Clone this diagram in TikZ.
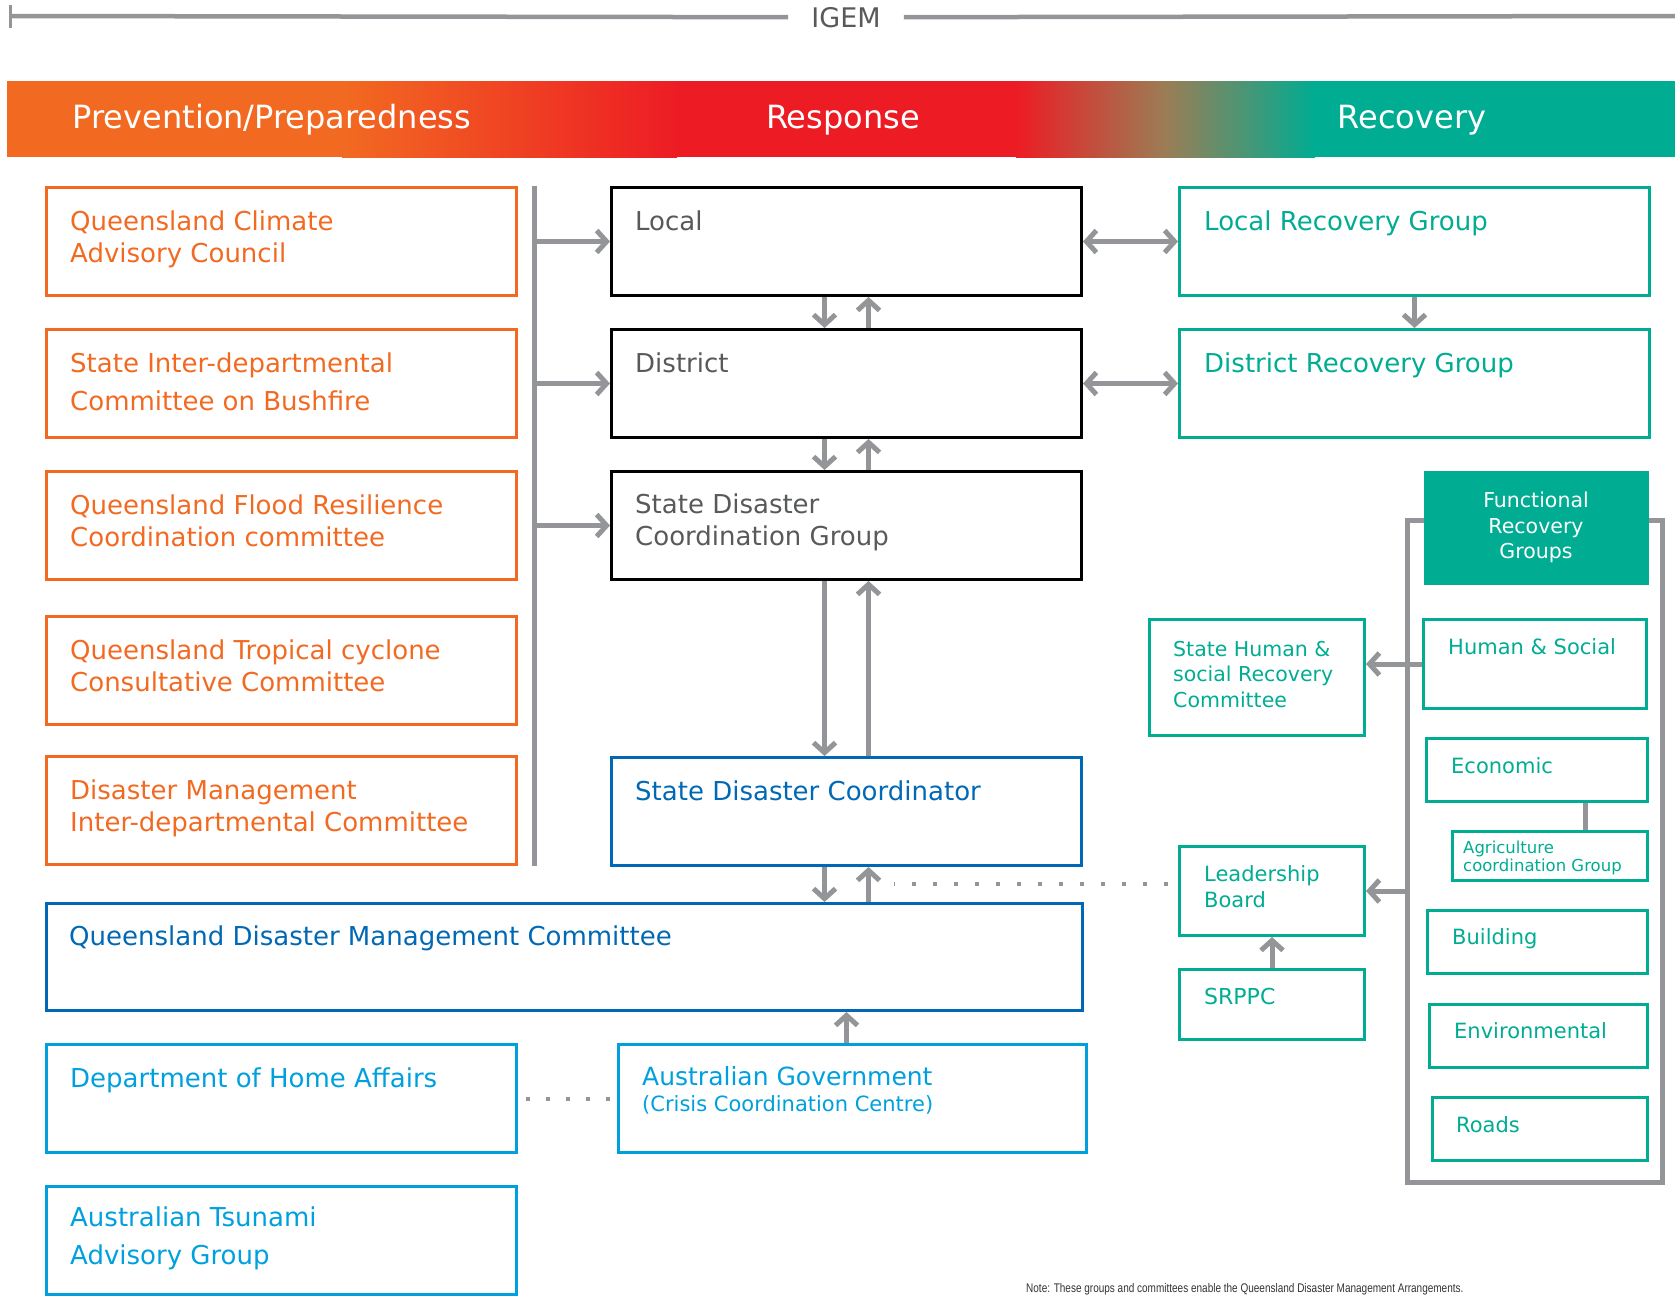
\documentclass[tikz,border=0pt]{standalone}
\usepackage{fontspec}
\setmainfont{DejaVu Sans}
\newfontfamily\notefont{Liberation Sans}
\usepackage{graphicx}
\usetikzlibrary{arrows.meta}

\definecolor{qorange}{RGB}{242,106,33}
\definecolor{qred}{RGB}{237,28,36}
\definecolor{qmud}{RGB}{155,125,85}
\definecolor{qteal}{RGB}{0,172,146}
\definecolor{qblue}{RGB}{0,104,180}
\definecolor{qsky}{RGB}{0,160,222}
\definecolor{qgrey}{RGB}{147,149,152}
\definecolor{qtext}{RGB}{88,89,91}

\tikzset{
  box/.style={draw, line width=3pt, anchor=north west, inner sep=0pt},
  big/.style={minimum width=470pt, minimum height=108pt},
  obox/.style={box, big, draw=qorange},
  kbox/.style={box, big, draw=black},
  bbox/.style={box, draw=qblue},
  sbox/.style={box, big, draw=qsky},
  tbox/.style={box, draw=qteal},
  lbl/.style={anchor=north west, align=left, inner sep=0pt, xshift=25pt, yshift=-#1,
    font=\fontsize{26}{32}\selectfont},
  lbl/.default=22pt,
  olbl/.style={lbl=#1, text=qorange}, olbl/.default=25pt,
  klbl/.style={lbl=#1, text=qtext}, klbl/.default=25pt,
  blbl/.style={lbl=#1, text=qblue}, blbl/.default=23pt,
  slbl/.style={lbl=#1, text=qsky}, slbl/.default=23pt,
  tlbl/.style={lbl=#1, text=qteal, font=\fontsize{21}{26}\selectfont}, tlbl/.default=20pt,
  arr/.style={draw=qgrey, line width=5pt, -{Straight Barb[length=10pt,width=22pt]}},
  darr/.style={draw=qgrey, line width=5pt,
    {Straight Barb[length=10pt,width=22pt]}-{Straight Barb[length=10pt,width=22pt]}},
  conn/.style={draw=qgrey, line width=5pt},
  dots/.style={draw=qgrey, line width=4pt, dash pattern=on 4pt off 17pt},
  phase/.style={anchor=base, text=white, font=\fontsize{32}{38}\selectfont},
}

\begin{document}
\begin{tikzpicture}[x=1pt, y=-1pt]
  \useasboundingbox (0,0) rectangle (1675,1296);

  % IGEM rule
  \node[text=qtext, inner ysep=0pt, inner xsep=23pt, anchor=base,
    font=\fontsize{27}{32}\selectfont] (igem) at (846,27) {IGEM};
  \coordinate (igemL) at (10,16);
  \coordinate (igemR) at (1675,16);
  \draw[conn, line width=4.5pt] (igemL) -- (igem.west);
  \draw[conn, line width=4.5pt] (igem.east) -- (igemR);
  \draw[conn, line width=3pt] (10,5) -- (10,28);

  % phase bar
  \fill[qorange] (7,81) rectangle (343,157);
  \shade[left color=qorange, right color=qred] (342,81) rectangle (677,157);
  \fill[qred] (676,81) rectangle (1017,157);
  \shade[left color=qred, right color=qteal, middle color=qmud] (1016,81) rectangle (1315,157);
  \fill[qteal] (1314,81) rectangle (1675,157);
  \node[phase] (prev) at (272,128) {Prevention/Preparedness};
  \node[phase] (resp) at (843,128) {Response};
  \node[phase] (reco) at (1412,128) {Recovery};

  % prevention / preparedness
  \node[obox, label={[olbl]north west:Queensland Climate\\Advisory Council}] (qcac) at (45,186) {};
  \node[obox, label={[olbl, font=\fontsize{26}{38}\selectfont]north west:State Inter-departmental\\Committee on Bushfire}] (sidcb) at (45,328) {};
  \node[obox, label={[olbl]north west:Queensland Flood Resilience\\Coordination committee}] (qfrcc) at (45,470) {};
  \node[obox, label={[olbl]north west:Queensland Tropical cyclone\\Consultative Committee}] (qtccc) at (45,615) {};
  \node[obox, label={[olbl]north west:Disaster Management\\Inter-departmental Committee}] (dmidc) at (45,755) {};

  % response
  \node[kbox, label={[klbl]north west:Local}] (local) at (610,186) {};
  \node[kbox, label={[klbl]north west:District}] (district) at (610,328) {};
  \node[kbox, label={[klbl=24pt]north west:State Disaster\\Coordination Group}] (sdcg) at (610,470) {};
  \node[bbox, big, label={[blbl=25pt]north west:State Disaster Coordinator}] (sdc) at (610,756) {};
  \node[bbox, minimum width=1036pt, minimum height=107pt,
    label={[blbl=24pt, xshift=-1pt]north west:Queensland Disaster Management Committee}] (qdmc) at (45,902) {};
  \node[sbox, label={[slbl=25pt]north west:Department of Home Affairs}] (home) at (45,1043) {};
  \node[sbox, minimum width=468pt, label={[slbl, font=\fontsize{25}{26}\selectfont]north west:Australian Government\\{\fontsize{21}{26}\selectfont(Crisis Coordination Centre)}}] (ausgov) at (617,1043) {};
  \node[sbox, label={[slbl=22pt, font=\fontsize{26}{38}\selectfont]north west:Australian Tsunami\\Advisory Group}] (tsunami) at (45,1185) {};

  % recovery
  \node[tbox, big, label={[tlbl=25pt, xshift=1pt, font=\fontsize{26}{32}\selectfont]north west:Local Recovery Group}] (lrg) at (1178,186) {};
  \node[tbox, big, label={[tlbl=25pt, xshift=1pt, font=\fontsize{26}{32}\selectfont]north west:District Recovery Group}] (drg) at (1178,328) {};

  \draw[conn] (1407,520) rectangle (1662,1182);
  \coordinate (frtl) at (1407,520);
  \node[box, draw=none, fill=qteal, minimum width=225pt, minimum height=114pt, text=white,
    align=center, font=\fontsize{20.5}{25.5}\selectfont] (frg) at (1422,469) {Functional\\Recovery\\Groups};
  \node[tbox, minimum width=223pt, minimum height=89pt,
    label={[tlbl, xshift=1pt]north west:Human \& Social}] (hs) at (1422,618) {};
  \node[tbox, minimum width=221pt, minimum height=63pt,
    label={[tlbl, xshift=1pt]north west:Economic}] (econ) at (1425,737) {};
  \node[tbox, minimum width=195pt, minimum height=49pt,
    label={[tlbl=10.5pt, xshift=-13pt, font=\fontsize{16.5}{18}\selectfont]north west:Agriculture\\coordination Group}] (agri) at (1451,830) {};
  \node[tbox, minimum width=220pt, minimum height=63pt,
    label={[tlbl=19pt, xshift=1pt]north west:Building}] (building) at (1426,909) {};
  \node[tbox, minimum width=218pt, minimum height=63pt,
    label={[tlbl=19pt, xshift=1pt]north west:Environmental}] (env) at (1428,1003) {};
  \node[tbox, minimum width=215pt, minimum height=63pt,
    label={[tlbl]north west:Roads}] (roads) at (1431,1096) {};

  \node[tbox, minimum width=215pt, minimum height=116pt,
    label={[tlbl=23pt, font=\fontsize{20.5}{25.5}\selectfont]north west:State Human \&\\social Recovery\\Committee}] (shsrc) at (1148,618) {};
  \node[tbox, minimum width=185pt, minimum height=89pt,
    label={[tlbl=20pt, xshift=1pt]north west:Leadership\\Board}] (lb) at (1178,845) {};
  \node[tbox, minimum width=185pt, minimum height=70pt,
    label={[tlbl, xshift=1pt, font=\fontsize{22}{26}\selectfont]north west:SRPPC}] (srppc) at (1178,968) {};

  % connectors
  \coordinate (spinetop) at (534,186);
  \coordinate (spinebot) at (534,866);
  \draw[conn] (spinetop) -- (spinebot);
  \foreach \n in {local,district,sdcg}
    \draw[arr] (spinetop |- \n.west) -- (\n.west);

  \draw[darr] (local.east) -- (lrg.west);
  \draw[darr] (district.east) -- (drg.west);
  \draw[arr] (lrg.south) -- (drg.north);

  \foreach \a/\b in {local/district, district/sdcg, sdcg/sdc} {
    \draw[arr] ([xshift=-22pt]\a.south) -- ([xshift=-22pt]\b.north);
    \draw[arr] ([xshift=22pt]\b.north) -- ([xshift=22pt]\a.south);
  }
  \draw[arr] ([xshift=-22pt]sdc.south) -- ([xshift=-22pt]sdc.south |- qdmc.north);
  \draw[arr] ([xshift=22pt]sdc.south |- qdmc.north) -- ([xshift=22pt]sdc.south);
  \coordinate (dotend) at ([xshift=47pt]sdc.south |- lb.west);
  \draw[dots, shorten <=10pt] ([yshift=7pt]lb.west) -- ([yshift=7pt]dotend);

  \draw[arr] ([xshift=-6pt]ausgov.north) -- ([xshift=-6pt]ausgov.north |- qdmc.south);
  \draw[dots, dash pattern=on 4pt off 16pt, shorten <=8pt, shorten >=4pt] (home.east) -- (ausgov.west);

  \draw[arr] (hs.west) -- (hs.west -| shsrc.east);
  \draw[arr] (frtl |- lb.east) -- (lb.east);
  \draw[arr] (srppc.north) -- (lb.south);
  \draw[conn] ([xshift=35pt]agri.north) -- ([xshift=35pt]agri.north |- econ.south);

  % note
  \node[anchor=base west, inner sep=0pt, text=black!80,
    font=\notefont\fontsize{12.5}{15}\selectfont] (note) at (1026,1292)
    {\scalebox{0.8}[1]{Note: These groups and committees enable the Queensland Disaster Management Arrangements.}};
\end{tikzpicture}
\end{document}
